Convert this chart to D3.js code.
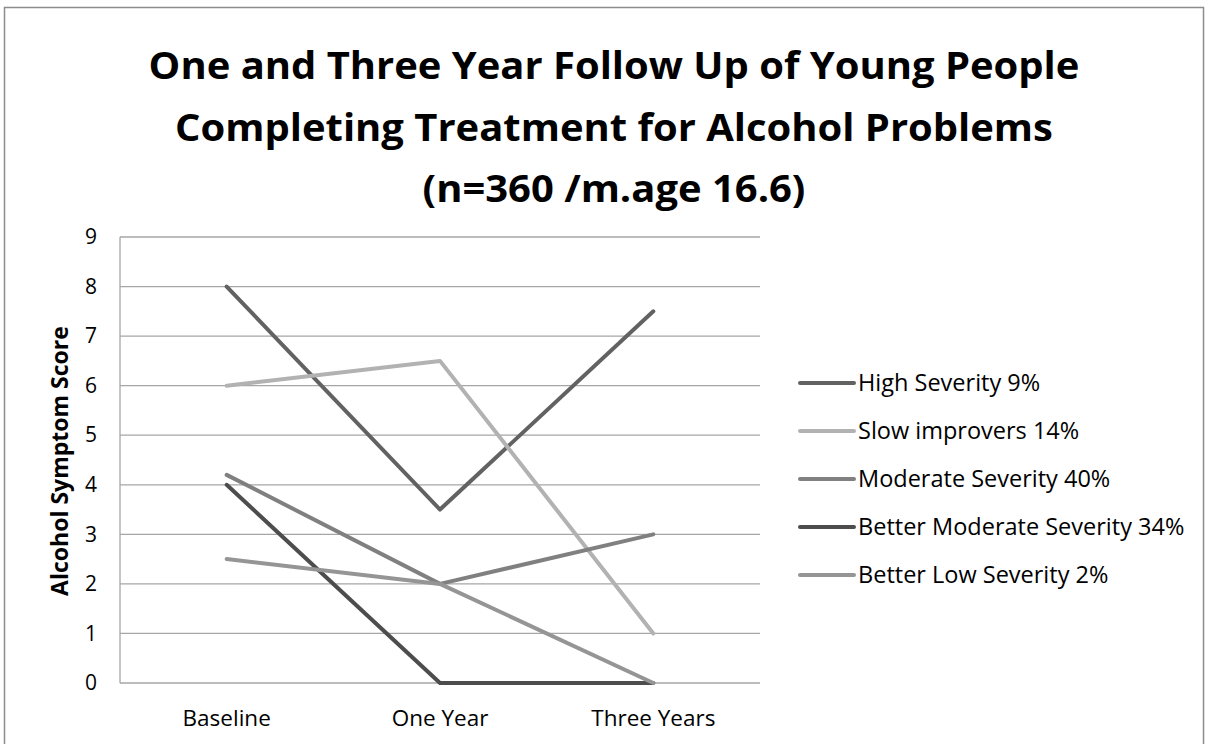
<!DOCTYPE html>
<html>
<head>
<meta charset="utf-8">
<script src="https://cdn.jsdelivr.net/npm/d3@7"></script>
<style>
  html, body { margin: 0; padding: 0; background: #fff; }
  svg { display: block; font-family: "Open Sans", sans-serif; }
</style>
</head>
<body>
<svg id="chart" width="1209" height="744"></svg>
<script>
// Time points on the x axis
const timepoints = ["Baseline", "One Year", "Three Years"];

// Trajectory groups (legend labels)
const groups = [
  "High Severity 9%",
  "Slow improvers 14%",
  "Moderate Severity 40%",
  "Better Moderate Severity 34%",
  "Better Low Severity 2%"
];

// Mean alcohol symptom score per group at each time point
const highSeverity = [8, 3.5, 7.5];
const slowImprovers = [6, 6.5, 1];
const moderateSeverity = [4.2, 2, 3];
const betterModerate = [4, 0, 0];
const betterLow = [2.5, 2, 0];

const yTicks = [0, 1, 2, 3, 4, 5, 6, 7, 8, 9];

const titleLines = [
  "One and Three Year Follow Up of Young People",
  "Completing Treatment for Alcohol Problems",
  "(n=360 /m.age 16.6)"
];

const seriesValues = [highSeverity, slowImprovers, moderateSeverity, betterModerate, betterLow];
const colors = ["#626262", "#b2b2b2", "#808080", "#4d4d4d", "#959595"];

const series = groups.map((name, i) => ({ name, values: seriesValues[i], color: colors[i] }));

const svg = d3.select("#chart");
const FONT = "'Open Sans', sans-serif";

// outer chart frame
svg.append("rect")
  .attr("x", 4.5).attr("y", 7.5)
  .attr("width", 1199).attr("height", 800)
  .attr("fill", "none").attr("stroke", "#8c8c8c").attr("stroke-width", 1.5);

const plot = { left: 120, right: 760, top: 237, bottom: 683 };

const x = d3.scaleBand().domain(timepoints).range([plot.left, plot.right]);
const y = d3.scaleLinear().domain([0, 9]).range([plot.bottom, plot.top]);

// title (slightly widened glyphs)
svg.append("g").selectAll("text")
  .data(titleLines)
  .join("text")
  .attr("transform", (d, i) => `translate(614,${79 + i * 61.5}) scale(1.08,1)`)
  .attr("text-anchor", "middle")
  .attr("font-size", 37)
  .attr("font-weight", "bold")
  .attr("fill", "#000")
  .text(d => d);

// horizontal gridlines
svg.append("g").selectAll("line")
  .data(yTicks)
  .join("line")
  .attr("x1", plot.left).attr("x2", plot.right)
  .attr("y1", d => y(d)).attr("y2", d => y(d))
  .attr("stroke", "#a6a6a6").attr("stroke-width", 1.3);

// y axis line
svg.append("line")
  .attr("x1", plot.left).attr("x2", plot.left)
  .attr("y1", plot.top).attr("y2", plot.bottom)
  .attr("stroke", "#a6a6a6").attr("stroke-width", 1.3);

// y axis labels
const yAxis = d3.axisLeft(y).tickValues(yTicks).tickSize(0).tickPadding(23).tickFormat(d3.format("d"));
const gy = svg.append("g").attr("transform", `translate(${plot.left},0)`).call(yAxis);
gy.select(".domain").remove();
gy.selectAll("text").attr("font-size", 21).attr("fill", "#000").attr("font-family", FONT);

// x axis labels
const xAxis = d3.axisBottom(x).tickSize(0);
const gx = svg.append("g").attr("transform", `translate(0,${plot.bottom})`).call(xAxis);
gx.select(".domain").remove();
gx.selectAll("text")
  .attr("y", 43).attr("dy", 0)
  .attr("font-size", 22.5).attr("fill", "#000").attr("font-family", FONT);

// y axis title
svg.append("text")
  .attr("transform", `translate(68,${(plot.top + plot.bottom) / 2 + 1}) rotate(-90)`)
  .attr("text-anchor", "middle")
  .attr("font-size", 23)
  .attr("font-weight", "bold")
  .attr("fill", "#000")
  .text("Alcohol Symptom Score");

// lines
const line = d3.line()
  .x((d, i) => x(timepoints[i]) + x.bandwidth() / 2)
  .y(d => y(d));

svg.append("g").selectAll("path")
  .data(series)
  .join("path")
  .attr("d", d => line(d.values))
  .attr("fill", "none")
  .attr("stroke", d => d.color)
  .attr("stroke-width", 4)
  .attr("stroke-linecap", "round")
  .attr("stroke-linejoin", "round");

// legend
const legend = svg.append("g").selectAll("g")
  .data(series)
  .join("g")
  .attr("transform", (d, i) => `translate(800,${383 + i * 48})`);

legend.append("line")
  .attr("x1", 0).attr("x2", 54)
  .attr("stroke", d => d.color)
  .attr("stroke-width", 4)
  .attr("stroke-linecap", "round");

legend.append("text")
  .attr("x", 58)
  .attr("dy", "0.36em")
  .attr("font-size", 23.5)
  .attr("fill", "#000")
  .text(d => d.name);
</script>
</body>
</html>
